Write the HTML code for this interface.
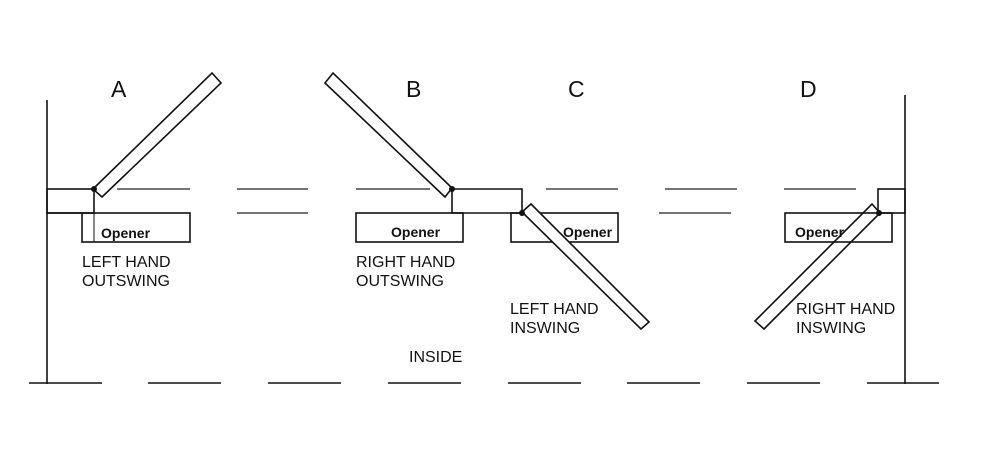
<!DOCTYPE html>
<html><head><meta charset="utf-8"><style>
html,body{margin:0;padding:0;background:#fff;}
svg{display:block;}
text{font-family:"Liberation Sans",Arial,sans-serif;fill:#111;}
</style></head><body>
<svg width="994" height="452" viewBox="0 0 994 452" xmlns="http://www.w3.org/2000/svg">
<g stroke="#111" stroke-width="1.6" fill="none">
<line x1="47" y1="100" x2="47" y2="384"/>
<line x1="905" y1="95" x2="905" y2="384"/>
<line x1="29" y1="383" x2="102" y2="383"/>
<line x1="148" y1="383" x2="221" y2="383"/>
<line x1="268" y1="383" x2="341" y2="383"/>
<line x1="388" y1="383" x2="461" y2="383"/>
<line x1="508" y1="383" x2="581" y2="383"/>
<line x1="627" y1="383" x2="700" y2="383"/>
<line x1="747" y1="383" x2="820" y2="383"/>
<line x1="867" y1="383" x2="939" y2="383"/>
<g stroke="#222" stroke-width="1.3">
<line x1="117" y1="189" x2="190" y2="189"/>
<line x1="237" y1="189" x2="308" y2="189"/>
<line x1="356" y1="189" x2="430" y2="189"/>
<line x1="546" y1="189" x2="618" y2="189"/>
<line x1="665" y1="189" x2="737" y2="189"/>
<line x1="784" y1="189" x2="856" y2="189"/>
<line x1="237" y1="213" x2="308" y2="213"/>
<line x1="659" y1="213" x2="731" y2="213"/>
</g>
<line x1="47" y1="213" x2="82" y2="213"/>
<rect x="47" y="189" width="47" height="24"/>
<rect x="82" y="213" width="108" height="29"/>
<line x1="94" y1="213" x2="94" y2="242" stroke-width="1"/>
<polygon points="93,189 212,73 221,83 102,197"/>
<polygon points="325,83 333,73 452,188 445,197"/>
<polyline points="452,189 522,189 522,213 452,213 452,189"/>
<rect x="356" y="213" width="107" height="29"/>
<rect x="511" y="213" width="107" height="29"/>
<polygon points="522,212 531,204 649,322 641,329" fill="#fff"/>
<rect x="878" y="189" width="27" height="24"/>
<rect x="785" y="213" width="107" height="29"/>
</g>
<text x="795" y="237" font-size="14" font-weight="bold">Opener</text>
<polygon points="872,204 880,213 764,329 755,321" fill="none" stroke="#111" stroke-width="1.6"/>
<g fill="#111">
<circle cx="94" cy="189" r="3"/>
<circle cx="452" cy="189" r="3"/>
<circle cx="522" cy="213" r="3"/>
<circle cx="879" cy="213" r="3"/>
</g>
<g font-size="23">
<text x="111" y="97">A</text>
<text x="406" y="97">B</text>
<text x="568" y="97">C</text>
<text x="800" y="97">D</text>
</g>
<g font-size="14" font-weight="bold">
<text x="101" y="238">Opener</text>
<text x="391" y="237">Opener</text>
<text x="563" y="237">Opener</text>
</g>
<g font-size="16">
<text x="82" y="267">LEFT HAND</text>
<text x="82" y="286">OUTSWING</text>
<text x="356" y="267">RIGHT HAND</text>
<text x="356" y="286">OUTSWING</text>
<text x="510" y="314">LEFT HAND</text>
<text x="510" y="333">INSWING</text>
<text x="796" y="314">RIGHT HAND</text>
<text x="796" y="333">INSWING</text>
<text x="409" y="362">INSIDE</text>
</g>
</svg>
</body></html>
